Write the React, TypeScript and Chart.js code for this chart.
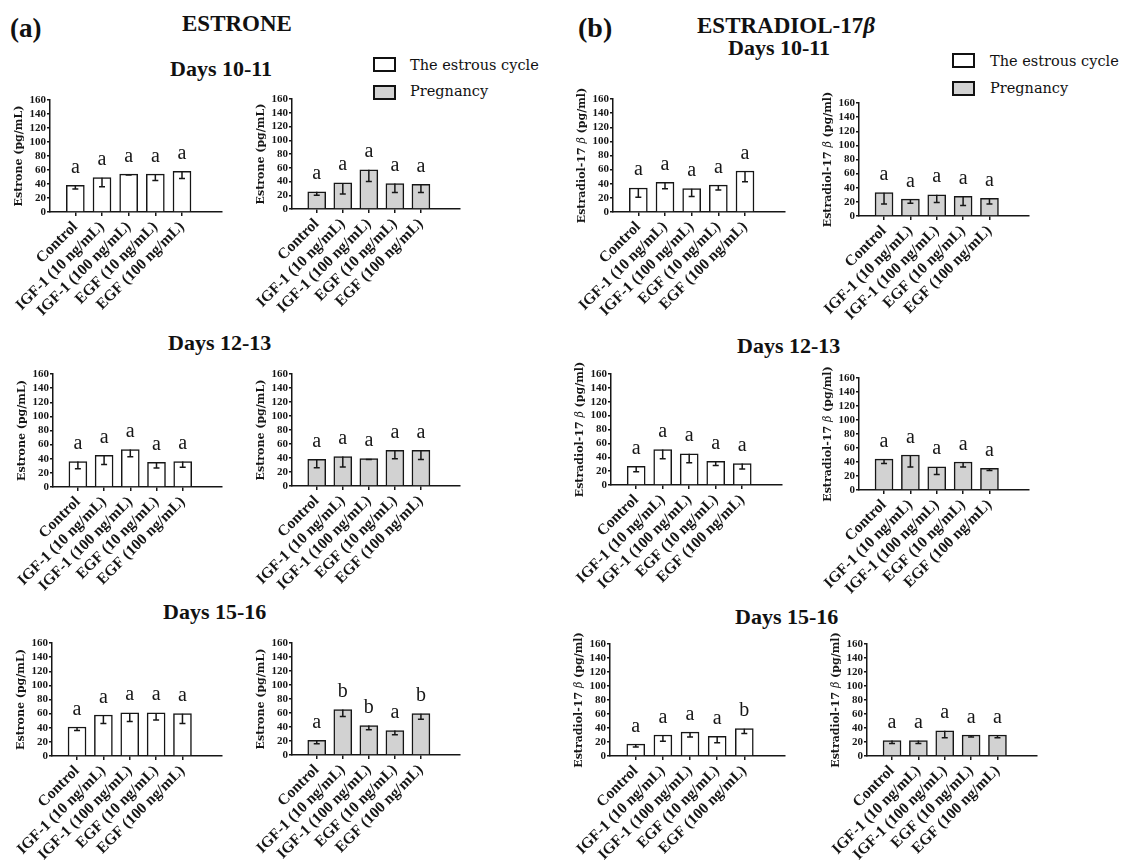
import React, { useEffect, useRef } from 'react';
import { Chart, registerables } from 'chart.js';

Chart.register(...registerables);

// ---------------- data ----------------
const categories = ['Control', 'IGF-1 (10 ng/mL)', 'IGF-1 (100 ng/mL)', 'EGF (10 ng/mL)', 'EGF (100 ng/mL)'];
const yMin = 0;
const yMax = 160;
const yStep = 20;

// Estrone, Days 10-11
const e1011Cycle = [38, 49, 54, 54, 58];
const e1011CycleSem = [5, 13, 1, 9, 10];
const e1011CycleLetters = ['a', 'a', 'a', 'a', 'a'];
const e1011Preg = [25, 38, 57, 37, 36];
const e1011PregSem = [5, 16, 17, 13, 12];
const e1011PregLetters = ['a', 'a', 'a', 'a', 'a'];
// Estrone, Days 12-13
const e1213Cycle = [36, 45, 53, 35, 36];
const e1213CycleSem = [10, 13, 10, 8, 8];
const e1213CycleLetters = ['a', 'a', 'a', 'a', 'a'];
const e1213Preg = [38, 42, 39, 51, 51];
const e1213PregSem = [12, 15, 1, 12, 13];
const e1213PregLetters = ['a', 'a', 'a', 'a', 'a'];
// Estrone, Days 15-16
const e1516Cycle = [41, 58, 61, 61, 60];
const e1516CycleSem = [5, 12, 12, 10, 14];
const e1516CycleLetters = ['a', 'a', 'a', 'a', 'a'];
const e1516Preg = [21, 65, 42, 35, 59];
const e1516PregSem = [5, 10, 6, 6, 8];
const e1516PregLetters = ['a', 'b', 'b', 'a', 'b'];
// Estradiol-17β, Days 10-11
const d1011Cycle = [34, 42, 33, 38, 58];
const d1011CycleSem = [13, 9, 11, 7, 15];
const d1011CycleLetters = ['a', 'a', 'a', 'a', 'a'];
const d1011Preg = [33, 24, 30, 28, 25];
const d1011PregSem = [16, 6, 11, 13, 8];
const d1011PregLetters = ['a', 'a', 'a', 'a', 'a'];
// Estradiol-17β, Days 12-13
const d1213Cycle = [27, 51, 45, 34, 31];
const d1213CycleSem = [8, 13, 13, 6, 8];
const d1213CycleLetters = ['a', 'a', 'a', 'a', 'a'];
const d1213Preg = [44, 50, 33, 40, 31];
const d1213PregSem = [6, 17, 11, 7, 3];
const d1213PregLetters = ['a', 'a', 'a', 'a', 'a'];
// Estradiol-17β, Days 15-16
const d1516Cycle = [17, 30, 34, 28, 39];
const d1516CycleSem = [4, 9, 7, 9, 7];
const d1516CycleLetters = ['a', 'a', 'a', 'a', 'b'];
const d1516Preg = [22, 22, 36, 30, 30];
const d1516PregSem = [4, 4, 10, 3, 4];
const d1516PregLetters = ['a', 'a', 'a', 'a', 'a'];

// ---------------- styling / layout ----------------
type Seg = { text: string; italic?: boolean };
const estroneAxisTitle: Seg[] = [{ text: 'Estrone (pg/mL)' }];
const estradiolAxisTitle: Seg[] = [{ text: 'Estradiol-17 ' }, { text: 'β', italic: true }, { text: ' (pg/ml)' }];

const CYCLE_FILL = '#ffffff';
const PREG_FILL = '#d2d2d2';
const INK = '#161616';

const Y_AXIS_W = 38;
const PAD_LEFT = 22;
const PAD_TOP = 24;
const PAD_RIGHT = 6;
const X_AXIS_H = 120;

interface PanelSpec {
  values: number[];
  sems: number[];
  letters: string[];
  fill: string;
  title: Seg[];
  axisX: number;
  topY: number;
  zeroY: number;
  xEnd: number;
}

const panels: PanelSpec[] = [
  { values: e1011Cycle, sems: e1011CycleSem, letters: e1011CycleLetters, fill: CYCLE_FILL, title: estroneAxisTitle, axisX: 50, topY: 100, zeroY: 212, xEnd: 222 },
  { values: e1011Preg, sems: e1011PregSem, letters: e1011PregLetters, fill: PREG_FILL, title: estroneAxisTitle, axisX: 292, topY: 99, zeroY: 209, xEnd: 460 },
  { values: d1011Cycle, sems: d1011CycleSem, letters: d1011CycleLetters, fill: CYCLE_FILL, title: estradiolAxisTitle, axisX: 613, topY: 99, zeroY: 212, xEnd: 785 },
  { values: d1011Preg, sems: d1011PregSem, letters: d1011PregLetters, fill: PREG_FILL, title: estradiolAxisTitle, axisX: 859, topY: 103, zeroY: 216, xEnd: 1029 },
  { values: e1213Cycle, sems: e1213CycleSem, letters: e1213CycleLetters, fill: CYCLE_FILL, title: estroneAxisTitle, axisX: 53, topY: 374, zeroY: 487, xEnd: 222 },
  { values: e1213Preg, sems: e1213PregSem, letters: e1213PregLetters, fill: PREG_FILL, title: estroneAxisTitle, axisX: 292, topY: 374, zeroY: 486, xEnd: 460 },
  { values: d1213Cycle, sems: d1213CycleSem, letters: d1213CycleLetters, fill: CYCLE_FILL, title: estradiolAxisTitle, axisX: 611, topY: 374, zeroY: 485, xEnd: 782 },
  { values: d1213Preg, sems: d1213PregSem, letters: d1213PregLetters, fill: PREG_FILL, title: estradiolAxisTitle, axisX: 859, topY: 378, zeroY: 490, xEnd: 1029 },
  { values: e1516Cycle, sems: e1516CycleSem, letters: e1516CycleLetters, fill: CYCLE_FILL, title: estroneAxisTitle, axisX: 52, topY: 643, zeroY: 756, xEnd: 222 },
  { values: e1516Preg, sems: e1516PregSem, letters: e1516PregLetters, fill: PREG_FILL, title: estroneAxisTitle, axisX: 292, topY: 643, zeroY: 755, xEnd: 460 },
  { values: d1516Cycle, sems: d1516CycleSem, letters: d1516CycleLetters, fill: CYCLE_FILL, title: estradiolAxisTitle, axisX: 610, topY: 644, zeroY: 756, xEnd: 785 },
  { values: d1516Preg, sems: d1516PregSem, letters: d1516PregLetters, fill: PREG_FILL, title: estradiolAxisTitle, axisX: 867, topY: 644, zeroY: 756, xEnd: 1037 },
];

function BarPanel({ spec }: { spec: PanelSpec }) {
  const ref = useRef<HTMLCanvasElement | null>(null);
  const plotW = spec.xEnd - spec.axisX;
  const plotH = spec.zeroY - spec.topY;
  const width = PAD_LEFT + Y_AXIS_W + plotW + PAD_RIGHT;
  const height = PAD_TOP + plotH + X_AXIS_H;
  const left = spec.axisX - Y_AXIS_W - PAD_LEFT;
  const top = spec.topY - PAD_TOP;

  useEffect(() => {
    const canvas = ref.current;
    if (!canvas) return;
    const annot = {
      id: 'errAndLetters',
      afterDatasetsDraw(chart: any) {
        const { ctx } = chart;
        const yScale = chart.scales.y;
        const meta = chart.getDatasetMeta(0);
        ctx.save();
        meta.data.forEach((bar: any, i: number) => {
          const v = spec.values[i];
          const e = spec.sems[i];
          const x = bar.x;
          const yTop = yScale.getPixelForValue(v);
          const yBot = yScale.getPixelForValue(v - e);
          ctx.strokeStyle = INK;
          ctx.lineWidth = 1.5;
          ctx.beginPath();
          ctx.moveTo(x, yTop);
          ctx.lineTo(x, yBot);
          ctx.moveTo(x - 3, yBot);
          ctx.lineTo(x + 3, yBot);
          ctx.stroke();
          ctx.fillStyle = INK;
          ctx.font = '20px "Liberation Serif"';
          ctx.textAlign = 'center';
          ctx.textBaseline = 'alphabetic';
          ctx.fillText(spec.letters[i], x, yTop - 12.5);
        });
        ctx.restore();
      },
      afterDraw(chart: any) {
        const { ctx, chartArea } = chart;
        const cy = (chartArea.top + chartArea.bottom) / 2;
        const cx = chartArea.left - Y_AXIS_W + 7;
        ctx.save();
        ctx.translate(cx, cy);
        ctx.rotate(-Math.PI / 2);
        ctx.fillStyle = INK;
        ctx.textBaseline = 'middle';
        ctx.textAlign = 'left';
        const fontFor = (s: Seg) => (s.italic ? 'italic 11px "DejaVu Serif"' : 'bold 11px "DejaVu Serif"');
        let total = 0;
        spec.title.forEach((s) => {
          ctx.font = fontFor(s);
          total += ctx.measureText(s.text).width;
        });
        let px = -total / 2;
        spec.title.forEach((s) => {
          ctx.font = fontFor(s);
          ctx.fillText(s.text, px, 0);
          px += ctx.measureText(s.text).width;
        });
        ctx.restore();
      },
    };

    const chart = new Chart(canvas, {
      type: 'bar',
      data: {
        datasets: [
          {
            data: spec.values.map((v, i) => ({ x: i, y: v })),
            backgroundColor: spec.fill,
            borderColor: INK,
            borderWidth: 1.5,
            barThickness: 18,
          },
        ],
      },
      options: {
        responsive: false,
        animation: false,
        devicePixelRatio: 1,
        layout: { padding: { top: PAD_TOP, right: PAD_RIGHT, left: PAD_LEFT, bottom: 0 } },
        plugins: { legend: { display: false }, tooltip: { enabled: false } },
        scales: {
          x: {
            type: 'linear',
            min: -0.95,
            max: 5.5,
            offset: false,
            afterBuildTicks: (s: any) => {
              s.ticks = categories.map((_, i) => ({ value: i }));
            },
            afterFit: (s: any) => {
              s.height = X_AXIS_H;
            },
            ticks: {
              autoSkip: false,
              minRotation: 45,
              maxRotation: 45,
              padding: 2,
              color: INK,
              font: { family: 'Liberation Serif', size: 15.5, weight: 'bold' },
              callback: (v: any) => categories[v] ?? '',
            },
            grid: { display: true, offset: false, drawOnChartArea: false, drawTicks: true, tickLength: 4, color: INK, lineWidth: 1.5 },
            border: { display: true, color: INK, width: 1.5 },
          },
          y: {
            min: yMin,
            max: yMax,
            afterFit: (s: any) => {
              s.width = Y_AXIS_W;
            },
            ticks: {
              stepSize: yStep,
              autoSkip: false,
              padding: 1,
              color: INK,
              font: { family: 'Liberation Serif', size: 11, weight: 'bold' },
            },
            grid: { display: true, drawOnChartArea: false, drawTicks: true, tickLength: 3, color: INK, lineWidth: 1.5 },
            border: { display: true, color: INK, width: 1.5 },
          },
        },
      } as any,
      plugins: [annot],
    });
    return () => chart.destroy();
  }, []);

  return (
    <canvas
      ref={ref}
      width={width}
      height={height}
      style={{ position: 'absolute', left, top, width, height }}
    />
  );
}

const serif = '"Liberation Serif", serif';
const legendFont = '"DejaVu Serif", serif';

function Txt({ left, top, size, bold, children, font }: any) {
  return (
    <div
      style={{
        position: 'absolute',
        left,
        top,
        fontFamily: font || serif,
        fontSize: size,
        fontWeight: bold ? 'bold' : 'normal',
        lineHeight: 1,
        whiteSpace: 'nowrap',
        color: '#111',
      }}
    >
      {children}
    </div>
  );
}

function LegendBox({ left, top, fill }: any) {
  return (
    <div
      style={{
        position: 'absolute',
        left,
        top,
        width: 23,
        height: 15,
        boxSizing: 'border-box',
        border: '2px solid #111',
        background: fill,
      }}
    />
  );
}

export default function App() {
  return (
    <div style={{ position: 'absolute', left: 0, top: 0, width: 1137, height: 861, background: '#fff', overflow: 'hidden' }}>
      <Txt left={10} top={15} size={27} bold>(a)</Txt>
      <Txt left={182} top={12} size={23} bold>ESTRONE</Txt>
      <Txt left={578} top={14} size={28} bold>(b)</Txt>
      <Txt left={697} top={14} size={23} bold>
        ESTRADIOL-17<span style={{ fontStyle: 'italic' }}>β</span>
      </Txt>

      <Txt left={170} top={58} size={22} bold>Days 10-11</Txt>
      <Txt left={728} top={37} size={22} bold>Days 10-11</Txt>
      <Txt left={168} top={332} size={22} bold>Days 12-13</Txt>
      <Txt left={737} top={335} size={22} bold>Days 12-13</Txt>
      <Txt left={163} top={601} size={22} bold>Days 15-16</Txt>
      <Txt left={735} top={606} size={22} bold>Days 15-16</Txt>

      <LegendBox left={373} top={57} fill={CYCLE_FILL} />
      <LegendBox left={373} top={85} fill={PREG_FILL} />
      <Txt left={410} top={58} size={14.5} font={legendFont}>The estrous cycle</Txt>
      <Txt left={410} top={84} size={14.5} font={legendFont}>Pregnancy</Txt>

      <LegendBox left={952} top={53} fill={CYCLE_FILL} />
      <LegendBox left={952} top={81} fill={PREG_FILL} />
      <Txt left={990} top={54} size={14.5} font={legendFont}>The estrous cycle</Txt>
      <Txt left={990} top={81} size={14.5} font={legendFont}>Pregnancy</Txt>

      {panels.map((p, i) => (
        <BarPanel key={i} spec={p} />
      ))}
    </div>
  );
}
